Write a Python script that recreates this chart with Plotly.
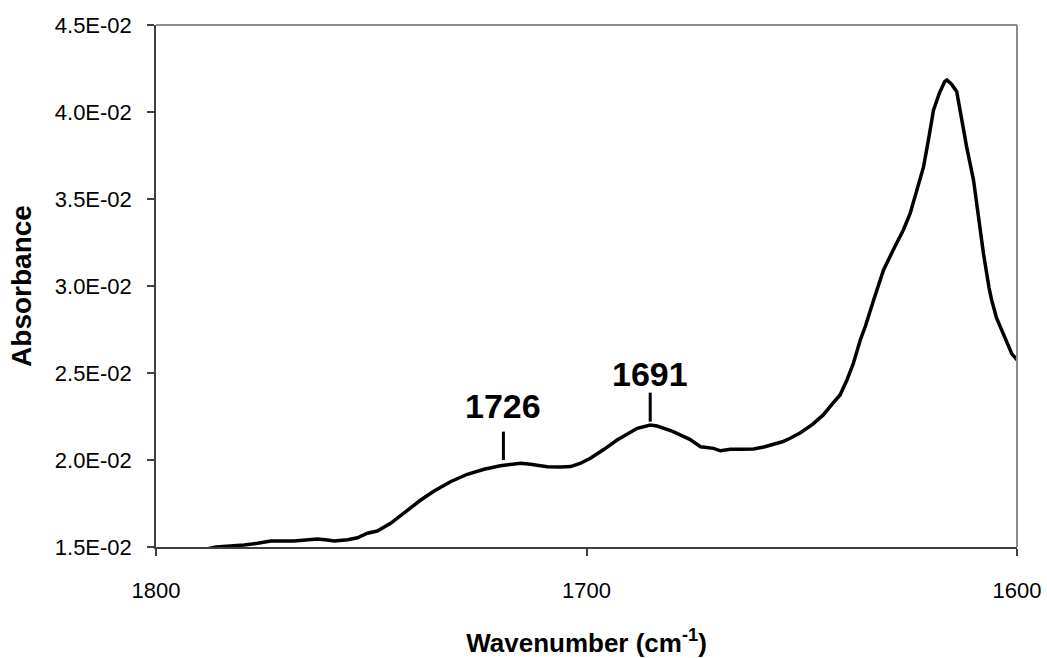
import plotly.graph_objects as go

# Data
wavenumber = [1800, 1792, 1786, 1782, 1779.5, 1776.4, 1773.3, 1768, 1764, 1762.5, 1760.2,
              1758.6, 1755.5, 1753.2, 1750.9, 1748.6, 1745.5, 1741.6, 1738.5, 1735.4,
              1731.6, 1727.7, 1723.8, 1720, 1717.6, 1715.3, 1713, 1711, 1709.1, 1706,
              1703.7, 1701.5, 1699.1, 1696, 1692.9, 1690.5, 1688.2, 1685.2, 1683.6, 1680,
              1676, 1673.5, 1670.5, 1668.9, 1666.6, 1664, 1661.2, 1658.8, 1656.5, 1654.5,
              1652.7, 1650.4, 1647.5, 1645.0, 1643, 1641.1, 1639.5, 1638.0, 1636.4, 1635.2,
              1633.3, 1631.0, 1628.5, 1626.4, 1624.8, 1623.2, 1621.7, 1620.5, 1619.4, 1618,
              1616.8, 1616.3, 1615.2, 1614.0, 1613, 1611.7, 1610.1, 1609, 1607.8, 1606.5,
              1605.9, 1604.8, 1603.9, 1602.4, 1601.2, 1600]
absorbance = [0.0144, 0.0147, 0.0150, 0.01505, 0.01512, 0.01521, 0.01534, 0.01535, 0.0154,
              0.01546, 0.0154, 0.01534, 0.01542, 0.01553, 0.01579, 0.01592, 0.01636, 0.01713,
              0.0177, 0.01822, 0.01875, 0.01918, 0.01947, 0.01967, 0.01975, 0.01981, 0.01975,
              0.0197, 0.01961, 0.0196, 0.01962, 0.0198, 0.0201, 0.0206, 0.02115, 0.0215,
              0.02182, 0.02201, 0.02195, 0.02165, 0.02119, 0.02076, 0.02067, 0.02053, 0.02062,
              0.02062, 0.02063, 0.02075, 0.0209, 0.02105, 0.02125, 0.02155, 0.02205, 0.02259,
              0.0232, 0.02374, 0.0246, 0.02556, 0.0269, 0.0277, 0.0292, 0.03092, 0.0322,
              0.03322, 0.03418, 0.0355, 0.03686, 0.0385, 0.04011, 0.0411, 0.04175, 0.04184,
              0.0416, 0.04117, 0.0398, 0.038, 0.03609, 0.0340, 0.03188, 0.0299, 0.0292,
              0.0282, 0.02766, 0.02671, 0.0261, 0.02575]

x_ticks = [1800, 1700, 1600]
y_ticks = [0.015, 0.020, 0.025, 0.030, 0.035, 0.040, 0.045]
y_tick_labels = ["1.5E-02", "2.0E-02", "2.5E-02", "3.0E-02", "3.5E-02", "4.0E-02", "4.5E-02"]

# Peak labels: text, x position of marker, marker bottom/top, label centre
peak_labels = ["1726", "1691"]
peak_x = [1719.3, 1685.2]
peak_line_bottom = [0.0200, 0.0222]
peak_line_top = [0.02163, 0.02387]
peak_text_y = [0.02312, 0.02494]

FONT = "Liberation Sans, Arial, sans-serif"

fig = go.Figure()
fig.add_trace(go.Scatter(x=wavenumber, y=absorbance, mode="lines",
                         line=dict(color="black", width=3.5, shape="linear"),
                         showlegend=False, hoverinfo="x+y"))

for lab, px, yb, yt, ty in zip(peak_labels, peak_x, peak_line_bottom, peak_line_top, peak_text_y):
    fig.add_shape(type="line", xref="x", yref="y", x0=px, x1=px, y0=yb, y1=yt,
                  line=dict(color="black", width=3))
    fig.add_annotation(x=px, y=ty, xref="x", yref="y", text="<b>%s</b>" % lab,
                       showarrow=False, font=dict(family=FONT, size=34, color="black"),
                       xanchor="center", yanchor="middle")

# top/right frame (gray)
fig.add_shape(type="line", xref="paper", yref="paper", x0=0, x1=1, y0=1, y1=1,
              line=dict(color="#8c8c8c", width=2))
fig.add_shape(type="line", xref="paper", yref="paper", x0=1, x1=1, y0=0, y1=1,
              line=dict(color="#8c8c8c", width=2))

fig.update_layout(
    width=1047, height=658,
    margin=dict(l=156, r=30, t=25, b=111),
    paper_bgcolor="white", plot_bgcolor="white",
    font=dict(family=FONT, color="black"),
    xaxis=dict(range=[1800, 1600], tickvals=x_ticks, ticktext=[str(v) for v in x_ticks],
               automargin=False,
               showgrid=False, zeroline=False, showline=True, linecolor="#404040", linewidth=1.5,
               ticks="outside", ticklen=7, tickwidth=1.5, tickcolor="#404040",
               tickfont=dict(family=FONT, size=22, color="black"), ticklabelstandoff=16,
               title=dict(text="<b>Wavenumber (cm<sup>-1</sup>)</b>",
                          font=dict(family=FONT, size=26, color="black"), standoff=50)),
    yaxis=dict(range=[0.015, 0.045], tickvals=y_ticks, ticktext=y_tick_labels,
               automargin=False,
               showgrid=False, zeroline=False, showline=True, linecolor="#404040", linewidth=1.5,
               ticks="outside", ticklen=7, tickwidth=1.5, tickcolor="#404040",
               tickfont=dict(family=FONT, size=22, color="black"), ticklabelstandoff=11,
               title=dict(text="<b>Absorbance</b>",
                          font=dict(family=FONT, size=28, color="black"), standoff=15)),
)

fig.write_html("out.html")
